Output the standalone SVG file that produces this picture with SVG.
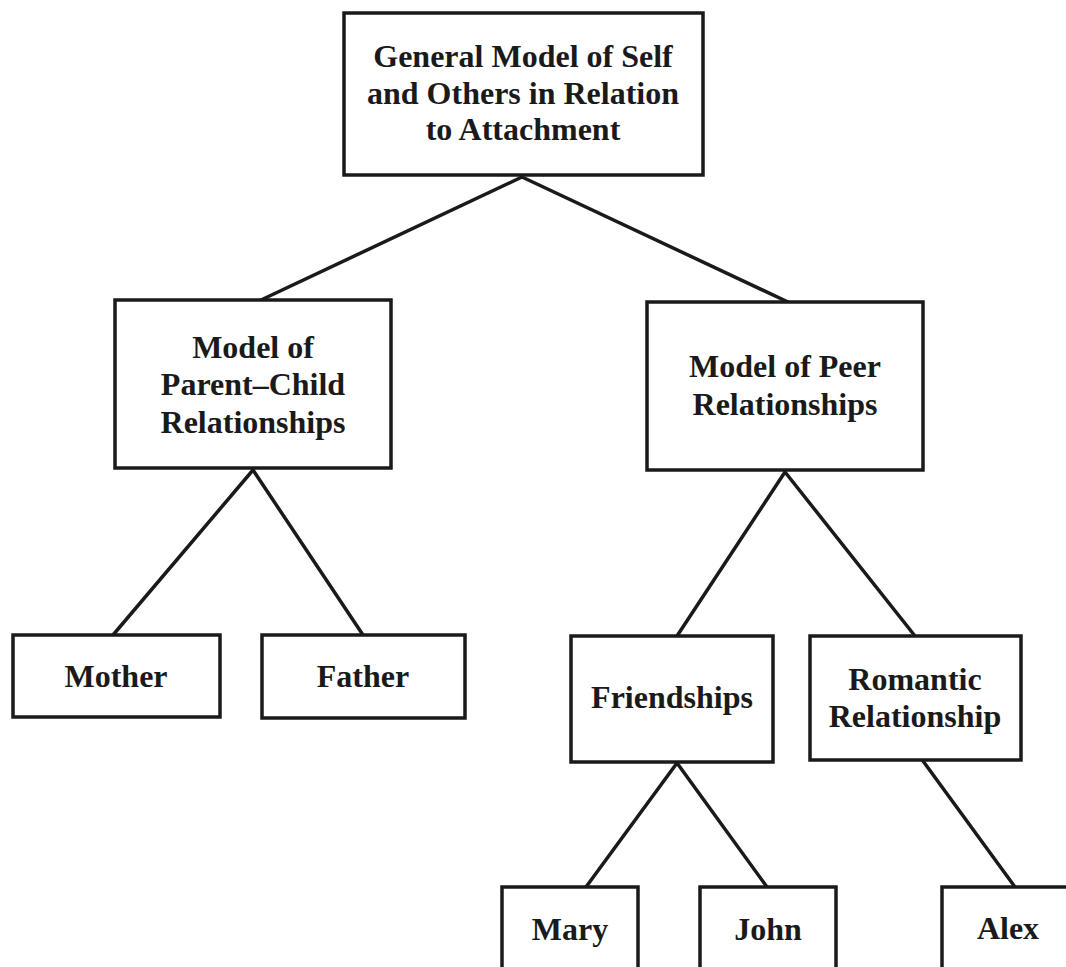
<svg xmlns="http://www.w3.org/2000/svg" width="1066" height="967" viewBox="0 0 1066 967">
<style>
.box{fill:#fff;stroke:#1a1a1a;stroke-width:3.5}
.t{font-family:"Liberation Serif","Times New Roman",serif;font-weight:bold;font-size:32px;fill:#1a1a1a;text-anchor:middle}
.edge{stroke:#1a1a1a;stroke-width:3.5;fill:none;stroke-linecap:round}
</style>
<rect width="1066" height="967" fill="#fff"/>
<g id="connectors">
<line class="edge" x1="522" y1="177" x2="261" y2="300"/>
<line class="edge" x1="522" y1="177" x2="788" y2="302"/>
<line class="edge" x1="253" y1="470" x2="113" y2="635"/>
<line class="edge" x1="253" y1="470" x2="363" y2="635"/>
<line class="edge" x1="785" y1="472" x2="677" y2="636"/>
<line class="edge" x1="785" y1="472" x2="915" y2="636"/>
<line class="edge" x1="677" y1="763" x2="586" y2="887"/>
<line class="edge" x1="677" y1="763" x2="767" y2="887"/>
<line class="edge" x1="923" y1="761" x2="1015" y2="887"/>
</g>
<g id="general">
<rect class="box" x="344" y="13" width="359" height="162"/>
<text class="t" x="523" y="67">General Model of Self</text>
<text class="t" x="523" y="104">and Others in Relation</text>
<text class="t" x="523" y="140">to Attachment</text>
</g>
<g id="parent-child">
<rect class="box" x="115" y="300" width="276" height="168"/>
<text class="t" x="253" y="358">Model of</text>
<text class="t" x="253" y="395">Parent–Child</text>
<text class="t" x="253" y="433">Relationships</text>
</g>
<g id="peer">
<rect class="box" x="647" y="302" width="276" height="168"/>
<text class="t" x="785" y="377">Model of Peer</text>
<text class="t" x="785" y="415">Relationships</text>
</g>
<g id="mother">
<rect class="box" x="13" y="635" width="207" height="82"/>
<text class="t" x="116" y="687">Mother</text>
</g>
<g id="father">
<rect class="box" x="262" y="635" width="203" height="83"/>
<text class="t" x="363" y="687">Father</text>
</g>
<g id="friendships">
<rect class="box" x="571" y="636" width="202" height="126"/>
<text class="t" x="672" y="708">Friendships</text>
</g>
<g id="romantic">
<rect class="box" x="810" y="636" width="211" height="124"/>
<text class="t" x="915" y="690">Romantic</text>
<text class="t" x="915" y="727">Relationship</text>
</g>
<g id="mary">
<rect class="box" x="502" y="887" width="136" height="100"/>
<text class="t" x="570" y="940">Mary</text>
</g>
<g id="john">
<rect class="box" x="700" y="887" width="136" height="100"/>
<text class="t" x="768" y="940">John</text>
</g>
<g id="alex">
<rect class="box" x="942" y="887" width="150" height="100"/>
<text class="t" x="1008" y="939">Alex</text>
</g>
</svg>
